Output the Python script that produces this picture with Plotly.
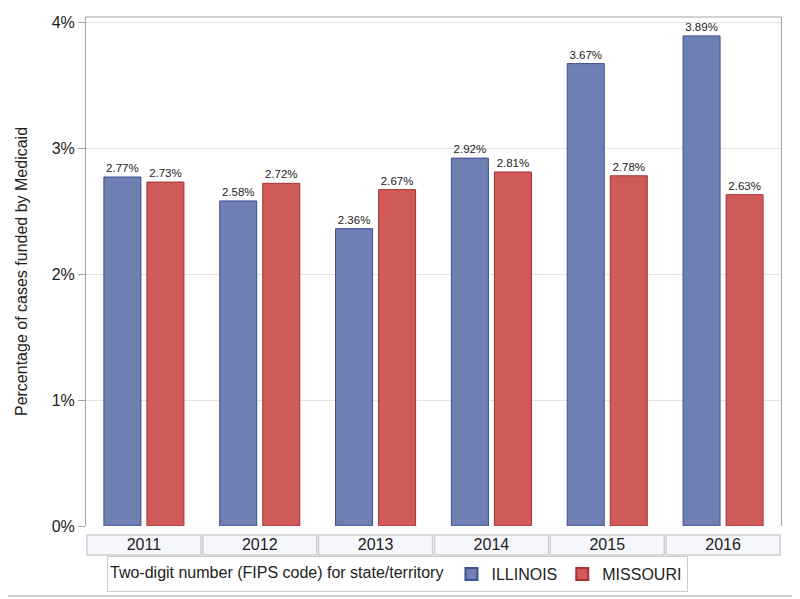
import plotly.graph_objects as go

years = ["2011", "2012", "2013", "2014", "2015", "2016"]
illinois = [2.77, 2.58, 2.36, 2.92, 3.67, 3.89]
missouri = [2.73, 2.72, 2.67, 2.81, 2.78, 2.63]
y_ticks = [0, 1, 2, 3, 4]
y_tick_labels = ["0%", "1%", "2%", "3%", "4%"]

FONT = "Liberation Sans, Arial, sans-serif"

# page has an 8px body margin; figure coords = page coords - 8
W, H = 792, 591
L, T = 78, 9
PW, PH = 695.0, 509.0

fig = go.Figure()
fig.add_trace(go.Bar(
    x=years, y=illinois, name="ILLINOIS",
    marker=dict(color="#6F7EB3", line=dict(color="#3F4F8F", width=1)),
    texttemplate="%{y:.2f}%", textposition="outside", cliponaxis=False,
    textfont=dict(size=11.5, color="#222"),
))
fig.add_trace(go.Bar(
    x=years, y=missouri, name="MISSOURI",
    marker=dict(color="#D05A5A", line=dict(color="#A83232", width=1)),
    texttemplate="%{y:.2f}%", textposition="outside", cliponaxis=False,
    textfont=dict(size=11.5, color="#222"),
))

shapes = []
# category table cells
for i, _ in enumerate(years):
    shapes.append(dict(type="rect", xref="x", yref="paper",
                       x0=i - 0.5 + 0.008, x1=i + 0.5 - 0.008,
                       y0=-(555 - 526) / PH, y1=-(535 - 526) / PH,
                       fillcolor="#F5F7FC", line=dict(color="#D0D0D0", width=1.5),
                       layer="below"))
# top frame line
shapes.append(dict(type="line", xref="paper", yref="paper", x0=0, x1=1, y0=1, y1=1,
                   line=dict(color="#A0A4AA", width=1)))
# outer image border (right and bottom edges, the others fall outside the figure)
shapes.append(dict(type="line", xref="paper", yref="paper",
                   x0=1 + 16 / PW, x1=1 + 16 / PW, y0=-70 / PH, y1=1 + 20 / PH,
                   line=dict(color="#D0D0D0", width=2)))
shapes.append(dict(type="line", xref="paper", yref="paper",
                   x0=-90 / PW, x1=1 + 16 / PW, y0=-70 / PH, y1=-70 / PH,
                   line=dict(color="#D0D0D0", width=2)))

fig.update_layout(
    width=W, height=H,
    margin=dict(l=L, r=W - L - PW, t=T, b=H - T - PH, autoexpand=False),
    paper_bgcolor="white", plot_bgcolor="white",
    font=dict(family=FONT, size=16, color="#222"),
    barmode="group", bargap=0.257, bargroupgap=0.14,
    showlegend=True,
    legend=dict(orientation="h", xref="container", yref="container",
                x=389.5 / W, xanchor="center", y=1 - 548 / H, yanchor="top",
                title=dict(text="Two-digit number (FIPS code) for state/territory",
                           font=dict(size=16)),
                font=dict(size=16),
                bordercolor="#CCCCCC", borderwidth=1, bgcolor="white",
                itemsizing="constant", tracegroupgap=0),
    xaxis=dict(showgrid=False, showline=False, ticks="", automargin=False,
               tickfont=dict(size=16), ticklabelstandoff=7, zeroline=False),
    yaxis=dict(range=[0, 4.04], tickvals=y_ticks, ticktext=y_tick_labels,
               automargin=False,
               showgrid=True, gridcolor="#E4E4E4", gridwidth=1,
               showline=True, linecolor="#A0A4AA", linewidth=1, mirror=True,
               ticks="outside", ticklen=7, tickcolor="#A0A4AA",
               tickfont=dict(size=16), zeroline=False,
               title=dict(text="Percentage of cases funded by Medicaid",
                          font=dict(size=16), standoff=20)),
    shapes=shapes,
)

fig.write_html("out.html")
